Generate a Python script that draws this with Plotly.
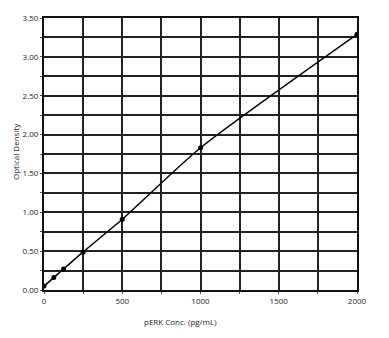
import plotly.graph_objects as go

conc = [0, 62.5, 125, 250, 500, 1000, 2000]
od = [0.05, 0.16, 0.27, 0.49, 0.91, 1.83, 3.29]

x_tickvals = [0, 250, 500, 750, 1000, 1250, 1500, 1750, 2000]
x_ticktext = ["0", "", "500", "", "1000", "", "1500", "", "2000"]
y_tickvals = [0, 0.25, 0.5, 0.75, 1.0, 1.25, 1.5, 1.75, 2.0, 2.25, 2.5, 2.75, 3.0, 3.25, 3.5]
y_ticktext = ["0.00", "", "0.50", "", "1.00", "", "1.50", "", "2.00", "", "2.50", "", "3.00", "", "3.50"]

fig = go.Figure()
fig.add_trace(go.Scatter(
    x=conc, y=od, mode="lines+markers",
    line=dict(color="black", width=1.5, shape="spline", smoothing=0.6),
    marker=dict(color="black", size=5),
    showlegend=False,
))

font = dict(family="Open Sans, Liberation Sans, sans-serif", size=8, color="#222")
fig.update_layout(
    width=389, height=338,
    margin=dict(l=44, r=32, t=14, b=48),
    paper_bgcolor="white", plot_bgcolor="white",
    font=font,
    xaxis=dict(range=[0, 2000], tickvals=x_tickvals, ticktext=x_ticktext,
               showgrid=True, gridcolor="#222", gridwidth=1.5,
               showline=True, linecolor="#111", linewidth=2, mirror=True,
               ticks="outside", ticklen=2, tickcolor="#555", zeroline=False,
               tickfont=font),
    yaxis=dict(range=[0, 3.5], tickvals=y_tickvals, ticktext=y_ticktext,
               showgrid=True, gridcolor="#222", gridwidth=1.5,
               showline=True, linecolor="#111", linewidth=2, mirror=True,
               ticks="outside", ticklen=2, tickcolor="#555", zeroline=False,
               tickfont=font),
)
fig.add_annotation(text="pERK Conc. (pg/mL)", xref="paper", yref="paper",
                   x=(180 - 44) / (357 - 44), y=-(322 - 290) / 276, xanchor="center", yanchor="middle",
                   showarrow=False, font=font)
fig.add_annotation(text="Optical Density", xref="paper", yref="paper",
                   x=-(44 - 15) / (357 - 44), y=(290 - 150) / 276, xanchor="center", yanchor="middle",
                   textangle=-90, showarrow=False, font=font)
fig.write_html("out.html")
